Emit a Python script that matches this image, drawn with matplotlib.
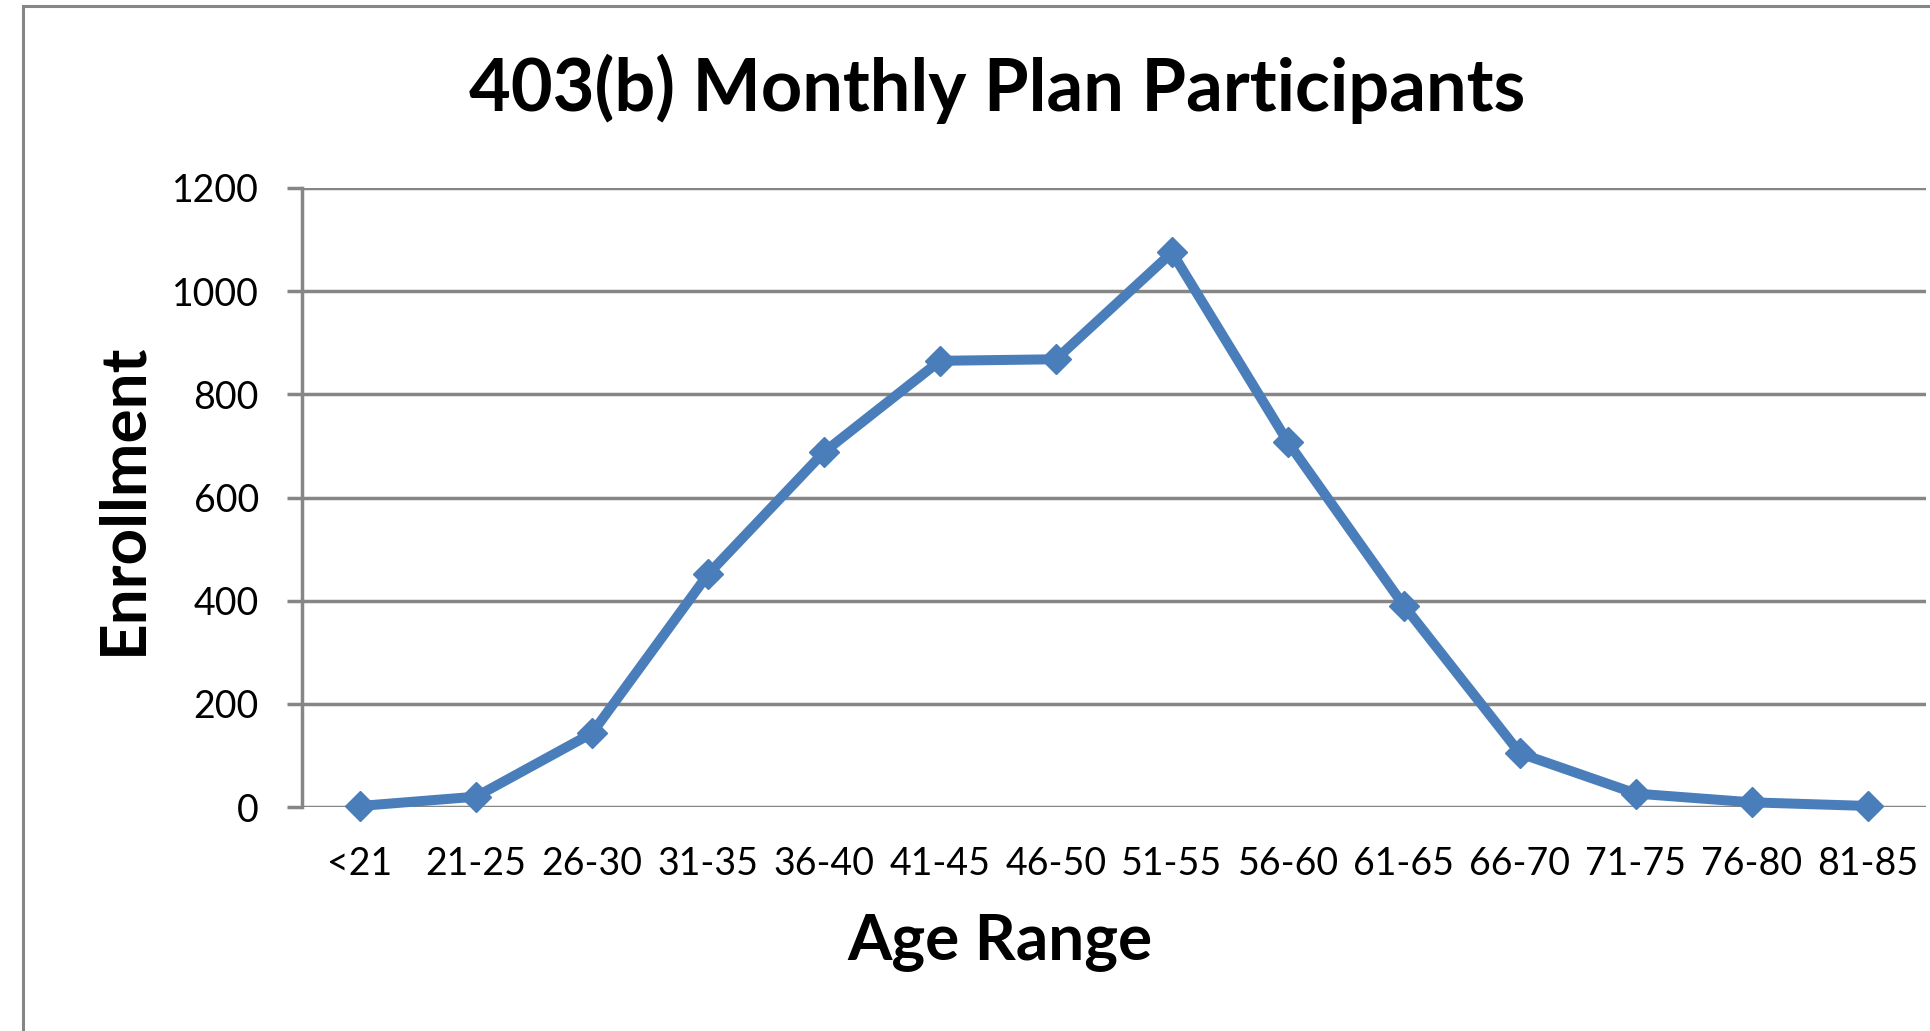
import numpy as np
import matplotlib
matplotlib.use("Agg")
import matplotlib.pyplot as plt
from matplotlib.patches import Rectangle

# data
age_ranges = ["<21", "21-25", "26-30", "31-35", "36-40", "41-45", "46-50",
              "51-55", "56-60", "61-65", "66-70", "71-75", "76-80", "81-85"]
enrollment = [2, 20, 143, 451, 688, 865, 868, 1075, 707, 390, 104, 26, 9, 2]
y_ticks = [0, 200, 400, 600, 800, 1000, 1200]

line_color = "#4A7EBB"
grid_color = "#868686"

plt.rcParams['font.family'] = ['Lato', 'DejaVu Sans']

W, H = 1931, 1031
fig = plt.figure(figsize=(W / 100, H / 100), dpi=100)
ax = fig.add_axes([302 / W, 1 - 807 / H, (1926 - 302) / W, (807 - 188) / H])

x = np.arange(len(age_ranges))
ax.plot(x, enrollment, color=line_color, lw=7.2, marker="D", ms=15,
        mec=line_color, mfc=line_color, mew=1, clip_on=False, zorder=3)

ax.set_xlim(-0.5, len(age_ranges) - 0.5)
ax.set_ylim(0, 1200)
ax.set_yticks(y_ticks)
ax.set_yticklabels([str(v) for v in y_ticks])
ax.set_xticks(x)
ax.set_xticklabels(age_ranges)

for v in y_ticks:
    ax.axhline(v, color=grid_color, lw=2.5, zorder=1)

for side in ["top", "right", "bottom"]:
    ax.spines[side].set_visible(False)
ax.spines["left"].set_color(grid_color)
ax.spines["left"].set_linewidth(2.5)

ax.tick_params(axis="y", length=11, width=2.5, color=grid_color, pad=20,
               labelsize=27)
ax.tick_params(axis="x", length=0, pad=28, labelsize=27)

fig.text(997 / W, 1 - 89 / H, "403(b) Monthly Plan Participants",
         ha="center", va="center", fontsize=52, fontweight="bold")
fig.text(1000 / W, 1 - 942 / H, "Age Range", ha="center", va="center",
         fontsize=46, fontweight="bold")
fig.text(123 / W, 1 - 499 / H, "Enrollment", ha="center", va="center",
         rotation=90, fontsize=46, fontweight="bold")

# outer chart border (right and bottom edges fall outside the image)
fig.patches.append(Rectangle((23 / W, -0.1), 1.2, 1.1 - 6 / H,
                             transform=fig.transFigure, fill=False,
                             edgecolor=grid_color, lw=2.2))

fig.savefig("out.png", dpi=100)
